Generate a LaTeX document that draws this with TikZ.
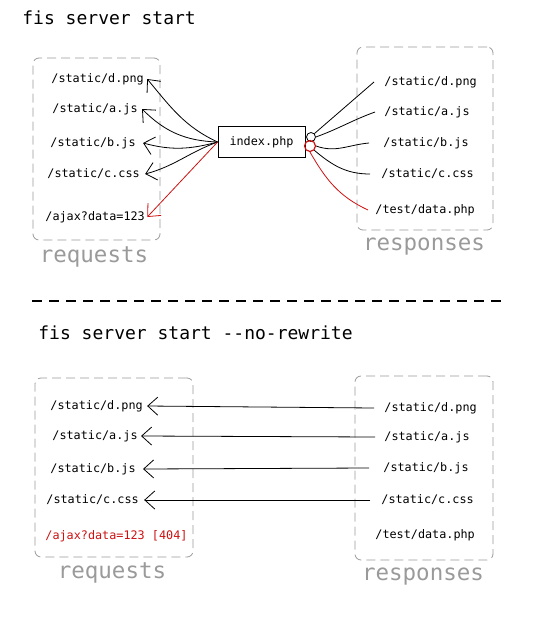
\documentclass[tikz,border=0pt]{standalone}
\usepackage{fontspec}
\setmonofont{DejaVu Sans Mono}
\usetikzlibrary{arrows.meta}
\definecolor{hotred}{HTML}{CC1111}
\definecolor{groupgray}{HTML}{9A9A9A}
\begin{document}
\begin{tikzpicture}[
    x=1pt, y=-1pt,
    url/.style={font=\ttfamily\fontsize{11.8}{13}\selectfont, inner sep=2pt, anchor=west},
    cmd/.style={font=\ttfamily\fontsize{18}{20}\selectfont, inner sep=0pt, anchor=west},
    side/.style={font=\ttfamily\fontsize{22.5}{24}\selectfont, text=groupgray, inner sep=0pt},
    group/.style={draw=groupgray, rounded corners=6pt, dash pattern=on 9pt off 5pt, line width=0.8pt},
    hit/.style={-{Straight Barb[length=10pt,width=18pt]}, line width=0.8pt},
    line width=0.8pt
    ]
  \useasboundingbox (0,0) rectangle (544,622);
  % with rewrite
  \node (titleA) [cmd] at (22,18) {fis server start};
  \node (reqsA) [group, minimum width=127pt, minimum height=182pt] at (96.5,149) {};
  \node (respA) [group, minimum width=136pt, minimum height=183pt] at (425,138.5) {};
  \node (reqlblA) [side] at (94,257) {requests};
  \node (resplblA) [side] at (424,247) {responses};

  \node (qdA) [url] at (49,79) {/static/d.png};
  \node (qaA) [url] at (50,109) {/static/a.js};
  \node (qbA) [url] at (48,143) {/static/b.js};
  \node (qcA) [url] at (45,174) {/static/c.css};
  \node (qxA) [url] at (43,217) {/ajax?data=123};

  \node (sdA) [url] at (382,82) {/static/d.png};
  \node (saA) [url] at (382,112) {/static/a.js};
  \node (sbA) [url] at (381,143) {/static/b.js};
  \node (scA) [url] at (379,174) {/static/c.css};
  \node (stA) [url] at (373,210) {/test/data.php};

  \node (idx) [draw, url, anchor=center, minimum width=87pt, minimum height=31pt] at (261.5,142) {index.php};
  \node (plug) [draw, circle, inner sep=0pt, minimum size=9pt] at (311,137) {};
  \node (plugx) [draw=hotred, circle, inner sep=0pt, minimum size=11pt, line width=1.2pt] at (310,146) {};

  \draw[hit] (idx.west) to[out=155,in=-50] ([xshift=1pt]qdA.east);
  \draw[hit] (idx.west) to[out=178,in=-45] ([xshift=2pt]qaA.east);
  \draw[hit] (idx.west) to[out=195,in=-15] ([xshift=5pt]qbA.east);
  \draw[hit] (idx.west) to[out=200,in=15] ([xshift=3pt]qcA.east);
  \draw[hit, hotred] (idx.west) -- (qxA.east);

  \draw (plug.north east) -- ([xshift=-8pt]sdA.west);
  \draw (plug.east) to[out=20,in=200] ([xshift=-7pt]saA.west);
  \draw (plugx.east) to[out=-20,in=185] ([xshift=-12pt]sbA.west);
  \draw (plugx.south east) to[out=-40,in=180] ([xshift=-9pt]scA.west);
  \draw[hotred] (plugx.south) to[out=-60,in=155] ([xshift=-5pt]stA.west);

  % separator
  \draw[line width=2pt, dash pattern=on 10pt off 7pt] (32,301) -- (504,301);

  % without rewrite
  \node (titleB) [cmd] at (38,333) {fis server start --no-rewrite};
  \node (reqsB) [group, minimum width=158pt, minimum height=179pt] at (114,467.5) {};
  \node (respB) [group, minimum width=138pt, minimum height=184pt] at (424,468) {};
  \node (reqlblB) [side] at (112,573) {requests};
  \node (resplblB) [side] at (423,577) {responses};

  \node (qdB) [url] at (48,406) {/static/d.png};
  \node (qaB) [url] at (50,436) {/static/a.js};
  \node (qbB) [url] at (48,469) {/static/b.js};
  \node (qcB) [url] at (44,500) {/static/c.css};
  \node (qxB) [url, text=hotred] at (43,536) {/ajax?data=123 [404]};

  \node (sdB) [url] at (382,408) {/static/d.png};
  \node (saB) [url] at (382,437) {/static/a.js};
  \node (sbB) [url] at (381,468) {/static/b.js};
  \node (scB) [url] at (379,500) {/static/c.css};
  \node (stB) [url] at (373,535) {/test/data.php};

  \draw[hit] ([xshift=-8pt]sdB.west) -- ([xshift=2pt]qdB.east);
  \draw[hit] ([xshift=-7pt]saB.west) -- ([xshift=1pt]qaB.east);
  \draw[hit] ([xshift=-12pt]sbB.west) -- ([xshift=5pt]qbB.east);
  \draw[hit] ([xshift=-9pt]scB.west) -- ([xshift=3pt]qcB.east);
\end{tikzpicture}
\end{document}
